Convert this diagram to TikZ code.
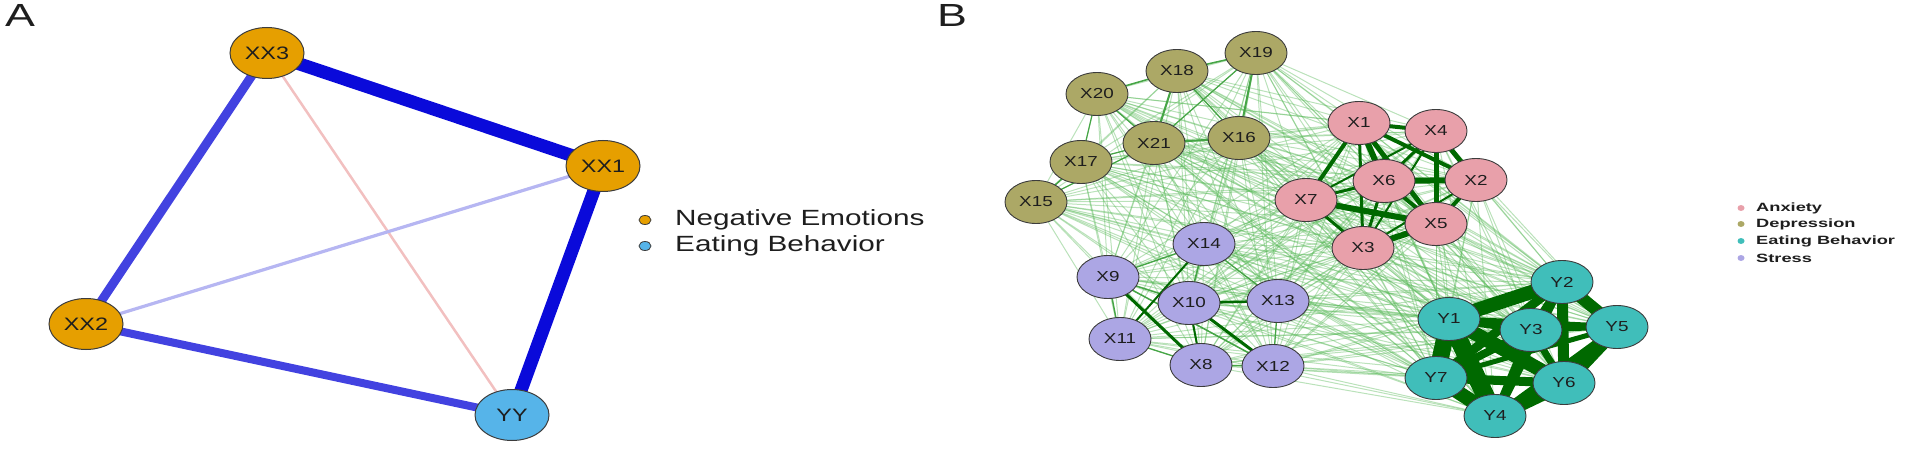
\documentclass[tikz,border=0pt]{standalone}
\usepackage{graphicx}
\usepackage{fontspec}
\setmainfont{Liberation Sans}
\usetikzlibrary{shapes.geometric,backgrounds}
\definecolor{orng}{HTML}{E69F00}
\definecolor{skyb}{HTML}{56B4E9}
\definecolor{eblue}{RGB}{10,10,218}
\definecolor{mblue}{RGB}{66,66,224}
\definecolor{lblue}{RGB}{182,182,242}
\definecolor{epink}{RGB}{242,192,192}
\definecolor{anx}{RGB}{232,160,170}
\definecolor{dep}{RGB}{172,168,102}
\definecolor{eat}{RGB}{64,190,186}
\definecolor{strs}{RGB}{172,166,228}
\definecolor{webg}{RGB}{90,185,90}
\definecolor{midg}{RGB}{70,165,70}
\definecolor{dkg}{RGB}{0,105,0}
\definecolor{ndraw}{RGB}{60,60,60}
\definecolor{txt}{RGB}{30,30,30}
\newcommand{\sx}[2][1.3]{\scalebox{#1}[1]{#2}}
\tikzset{
  anode/.style={ellipse, draw=ndraw, line width=1pt, minimum width=74pt, minimum height=51pt, inner sep=0pt, text=txt, font=\fontsize{18}{18}\selectfont},
  bnode/.style={ellipse, draw=ndraw, line width=0.9pt, minimum width=62pt, minimum height=43pt, inner sep=0pt, text=txt, font=\fontsize{14.5}{14.5}\selectfont},
  adot/.style={ellipse, draw=ndraw, line width=0.8pt, minimum width=12pt, minimum height=9pt, inner sep=0pt},
  bdot/.style={ellipse, draw=none, minimum width=7pt, minimum height=6pt, inner sep=0pt},
  atext/.style={anchor=west, inner sep=0pt, text=txt, font=\fontsize{22}{22}\selectfont},
  btext/.style={anchor=west, inner sep=0pt, text=txt, font=\fontsize{12}{12}\selectfont\bfseries},
  panel/.style={inner sep=0pt, text=txt, font=\fontsize{32}{32}\selectfont},
  web/.style={webg, line width=1pt, opacity=0.42},
}
\begin{document}
\begin{tikzpicture}[x=1pt,y=-1pt]
\useasboundingbox (0,0) rectangle (1908,449);
% ---------- Panel A ----------
\node[panel] (labA) at (20,15) {\sx[1.4]{A}};
\node[anode, fill=orng] (XX3) at (267,53) {\sx{XX3}};
\node[anode, fill=orng] (XX1) at (603,166) {\sx{XX1}};
\node[anode, fill=orng] (XX2) at (86,324) {\sx{XX2}};
\node[anode, fill=skyb] (YY) at (512,415) {\sx{YY}};
\begin{scope}[on background layer]
  \draw[epink, line width=2.5pt] (XX3.center) -- (YY.center);
  \draw[lblue, line width=3.2pt] (XX1.center) -- (XX2.center);
  \draw[mblue, line width=9pt] (XX3.center) -- (XX2.center);
  \draw[mblue, line width=8pt] (XX2.center) -- (YY.center);
  \draw[eblue, line width=13pt] (XX3.center) -- (XX1.center);
  \draw[eblue, line width=13pt] (XX1.center) -- (YY.center);
\end{scope}
\node[adot, fill=orng] (la1) at (645,220) {};
\node[adot, fill=skyb] (la2) at (645,246) {};
\node[atext] (ta1) at (675,220) {\sx[1.35]{Negative Emotions}};
\node[atext] (ta2) at (675,246) {\sx[1.35]{Eating Behavior}};
% ---------- Panel B ----------
\node[panel] (labB) at (952,15) {\sx[1.4]{B}};
\foreach \n/\x/\y in {X19/1256/53, X18/1177/71, X20/1097/94, X21/1154/143, X16/1239/138, X17/1081/162, X15/1036/202}
  \node[bnode, fill=dep] (\n) at (\x,\y) {\sx{\n}};
\foreach \n/\x/\y in {X1/1359/123, X4/1436/131, X6/1384/181, X2/1476/180, X7/1306/200, X5/1436/224, X3/1363/248}
  \node[bnode, fill=anx] (\n) at (\x,\y) {\sx{\n}};
\foreach \n/\x/\y in {X14/1204/244, X9/1108/277, X10/1189/303, X13/1278/301, X11/1120/339, X8/1201/365, X12/1273/366}
  \node[bnode, fill=strs] (\n) at (\x,\y) {\sx{\n}};
\foreach \n/\x/\y in {Y2/1562/282, Y1/1449/319, Y3/1531/330, Y5/1617/327, Y7/1436/378, Y6/1564/383, Y4/1495/416}
  \node[bnode, fill=eat] (\n) at (\x,\y) {\sx{\n}};
\begin{scope}[on background layer]
  \foreach \a [count=\i] in {X1,X2,X3,X4,X5,X6,X7,X8,X9,X10,X11,X12,X13,X14,X15,X16,X17,X18,X19,X20,X21,Y1,Y2,Y3,Y4,Y5,Y6,Y7}{
    \foreach \b [count=\j] in {X1,X2,X3,X4,X5,X6,X7,X8,X9,X10,X11,X12,X13,X14,X15,X16,X17,X18,X19,X20,X21,Y1,Y2,Y3,Y4,Y5,Y6,Y7}{
      \ifnum\j>\i \draw[web] (\a.center) -- (\b.center); \fi
    }
  }
  % depression
  \foreach \a/\b/\w in {X18/X21/2, X19/X16/2, X21/X16/2, X20/X18/1.5, X18/X19/1.5, X17/X15/1.5, X20/X17/1.2, X21/X17/1.2, X18/X16/1.2, X19/X21/1.2, X20/X21/1.2, X15/X21/1.2}
    \draw[midg, line width=\w pt] (\a.center) -- (\b.center);
  % stress
  \foreach \a/\b/\w in {X9/X10/1.4, X9/X11/1.4, X11/X8/1.3, X13/X12/1.3, X8/X12/1.3, X14/X13/1.3, X14/X9/1.3, X14/X10/1.6, X9/X12/1.5}
    \draw[midg, line width=\w pt] (\a.center) -- (\b.center);
  \foreach \a/\b/\w in {X9/X8/3, X10/X12/3, X10/X8/2, X14/X11/2, X10/X13/2.5}
    \draw[dkg, line width=\w pt] (\a.center) -- (\b.center);
  % anxiety
  \foreach \a/\b/\w in {X1/X4/4, X1/X6/6, X1/X5/5, X1/X2/4, X1/X7/4, X1/X3/3, X4/X6/3, X4/X2/5, X4/X5/5, X4/X7/2, X6/X2/6, X6/X5/4, X6/X7/3, X6/X3/3, X7/X5/6, X7/X3/3, X3/X5/6, X2/X5/4, X2/X3/2, X4/X3/2}
    \draw[dkg, line width=\w pt] (\a.center) -- (\b.center);
  % eating
  \foreach \a/\b/\w in {Y1/Y2/14, Y1/Y7/17, Y1/Y4/18, Y1/Y6/14, Y1/Y3/8, Y2/Y5/12, Y2/Y6/11, Y2/Y4/9, Y2/Y3/7, Y3/Y6/7, Y5/Y6/15, Y5/Y3/5, Y7/Y4/14, Y4/Y6/15, Y7/Y6/9, Y7/Y2/9, Y7/Y3/8, Y1/Y5/6, Y4/Y3/8, Y7/Y5/5, Y4/Y5/6}
    \draw[dkg, line width=\w pt] (\a.center) -- (\b.center);
\end{scope}
% legend B
\node[bdot, fill=anx] (lb1) at (1741,208) {};
\node[bdot, fill=dep] (lb2) at (1741,224) {};
\node[bdot, fill=eat] (lb3) at (1741,241) {};
\node[bdot, fill=strs] (lb4) at (1741,258) {};
\node[btext] (tb1) at (1756,208) {\sx[1.52]{Anxiety}};
\node[btext] (tb2) at (1756,224) {\sx[1.52]{Depression}};
\node[btext] (tb3) at (1756,241) {\sx[1.52]{Eating Behavior}};
\node[btext] (tb4) at (1756,258) {\sx[1.52]{Stress}};
\end{tikzpicture}
\end{document}
